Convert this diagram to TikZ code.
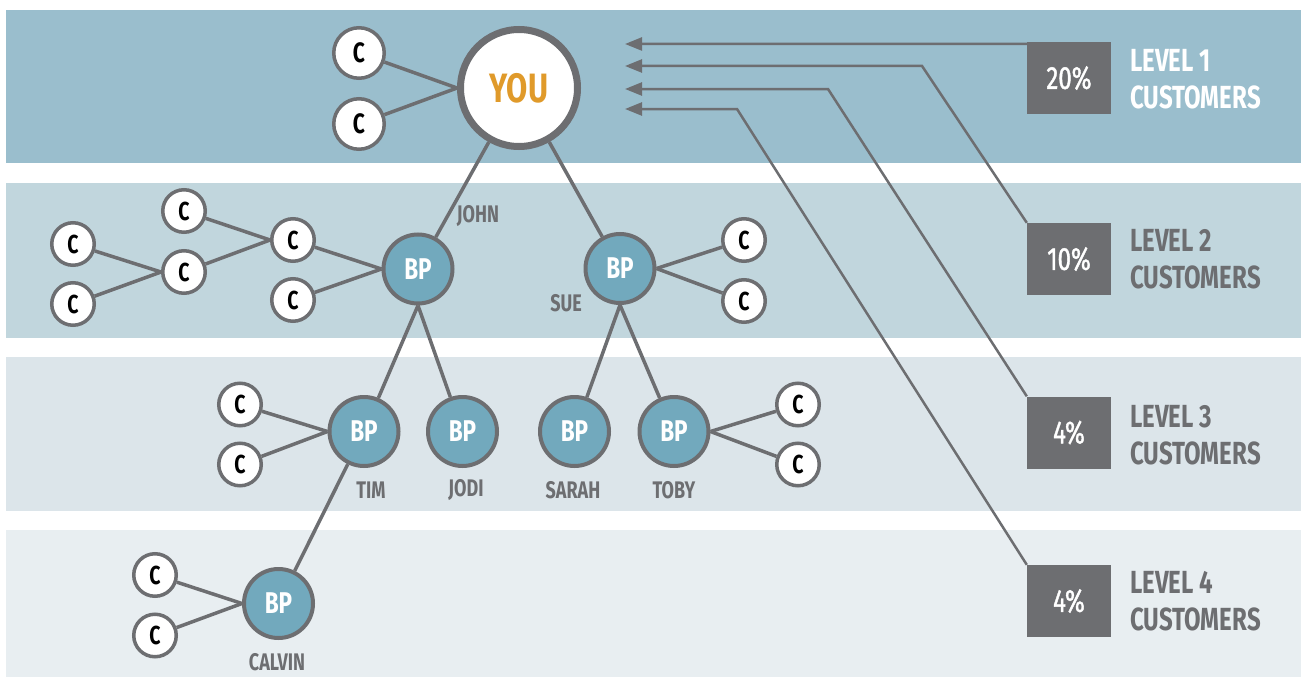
\documentclass[tikz,border=0pt]{standalone}
\usepackage{fontspec}
\setmainfont{Fira Sans}[FakeStretch=0.75]
\newfontfamily\pctfont{Fira Sans}[FakeStretch=0.75, FakeBold=1.2]
\usetikzlibrary{arrows.meta}
\definecolor{bandA}{HTML}{9ABECD}
\definecolor{bandB}{HTML}{C1D6DD}
\definecolor{bandC}{HTML}{DCE5EA}
\definecolor{bandD}{HTML}{E8EEF1}
\definecolor{slate}{HTML}{6D6E71}
\definecolor{bpblue}{HTML}{72A9BD}
\definecolor{youorange}{HTML}{E09A2A}
\tikzset{
  cnode/.style={circle, draw=slate, fill=white, line width=3.5pt, minimum size=42.5pt, inner sep=0pt, font=\fontsize{26}{26}\selectfont\bfseries},
  cbig/.style={cnode, minimum size=50.5pt, font=\fontsize{28}{28}\selectfont\bfseries},
  bpnode/.style={circle, draw=slate, fill=bpblue, line width=4pt, minimum size=69pt, inner sep=0pt, text=white, font=\fontsize{30}{30}\selectfont\bfseries},
  younode/.style={circle, draw=slate, fill=white, line width=7pt, minimum size=117pt, inner sep=0pt, text=youorange, font=\fontsize{41}{41}\selectfont\bfseries},
  who/.style={text=slate, font=\fontsize{24}{24}\selectfont\bfseries},
  pctbox/.style={fill=slate, minimum width=84pt, minimum height=72pt, inner sep=0pt, text=white, font=\fontsize{32}{32}\pctfont},
  lvl/.style={anchor=west, align=left, inner sep=0pt, font=\fontsize{32}{37}\selectfont\bfseries},
  conn/.style={draw=slate, line width=3.5pt},
  payline/.style={draw=slate, line width=2.5pt, -{Triangle[length=17pt,width=13pt]}}
}
\begin{document}
\begin{tikzpicture}[x=1pt, y=-1pt]
        \useasboundingbox (0,0) rectangle (1301,677);
        % level bands
        \fill[bandA] (6,10) rectangle (1301,163);
        \fill[bandB] (6,183) rectangle (1301,338);
        \fill[bandC] (6,357) rectangle (1301,511);
        \fill[bandD] (6,530) rectangle (1301,677);

        % level 1
        \node[younode] (you) at (519,88) {YOU};
        \node[cbig] (yc1) at (359,53) {C};
        \node[cbig] (yc2) at (359,124) {C};

        % level 2
        \node[bpnode] (john) at (418,269) {BP};
        \node[bpnode] (sue) at (620,268.5) {BP};
        \node[cnode] (jc1) at (293,240) {C};
        \node[cnode] (jc2) at (293,300) {C};
        \node[cnode] (mc1) at (184,211) {C};
        \node[cnode] (mc2) at (184,272) {C};
        \node[cnode] (lc1) at (73,244) {C};
        \node[cnode] (lc2) at (73,304) {C};
        \node[cnode] (sc1) at (744,240) {C};
        \node[cnode] (sc2) at (744,301) {C};
        \node[who] (johnname) at (478,216) {JOHN};
        \node[who] (suename) at (566,303) {SUE};

        % level 3
        \node[bpnode] (tim) at (364,431.5) {BP};
        \node[bpnode] (jodi) at (462.5,431.5) {BP};
        \node[bpnode] (sarah) at (574.5,431.5) {BP};
        \node[bpnode] (toby) at (674,431.5) {BP};
        \node[cnode] (tc1) at (240,404.5) {C};
        \node[cnode] (tc2) at (240,464.5) {C};
        \node[cnode] (oc1) at (798,404.5) {C};
        \node[cnode] (oc2) at (798,464.5) {C};
        \node[who] (timname) at (371,490) {TIM};
        \node[who] (jodiname) at (466,490) {JODI};
        \node[who] (sarahname) at (573,490) {SARAH};
        \node[who] (tobyname) at (674,490) {TOBY};

        % level 4
        \node[bpnode] (calvin) at (278.5,603.5) {BP};
        \node[cnode] (cc1) at (155,575) {C};
        \node[cnode] (cc2) at (155,635.5) {C};
        \node[who] (calvinname) at (277,662) {CALVIN};

        % connectors
        \foreach \c/\t in {yc1/you.west, yc2/you.west, lc1/mc2.west, lc2/mc2.west,
                           mc1/jc1.west, mc2/jc1.west, jc1/john.west, jc2/john.west,
                           sc1/sue.east, sc2/sue.east, tc1/tim.west, tc2/tim.west,
                           oc1/toby.east, oc2/toby.east, cc1/calvin.west, cc2/calvin.west}
        \draw[conn] (\c) -- (\t);
        \draw[conn] (you) -- (john);
        \draw[conn] (you) -- (sue);
        \draw[conn] (john.south) -- (tim);
        \draw[conn] (john.south) -- (jodi);
        \draw[conn] (sue.south) -- (sarah);
        \draw[conn] (sue.south) -- (toby);
        \draw[conn] (tim) -- (calvin);

        % payout boxes
        \node[pctbox] (p1) at (1069,78) {20\%};
        \node[pctbox] (p2) at (1069,259) {10\%};
        \node[pctbox] (p3) at (1069,432.5) {4\%};
        \node[pctbox] (p4) at (1069,601) {4\%};
        \node[lvl, text=white] (l1) at (1130,79) {LEVEL 1\\CUSTOMERS};
        \node[lvl, text=slate] (l2) at (1130,259) {LEVEL 2\\CUSTOMERS};
        \node[lvl, text=slate] (l3) at (1130,435) {LEVEL 3\\CUSTOMERS};
        \node[lvl, text=slate] (l4) at (1130,601) {LEVEL 4\\CUSTOMERS};

        % arrows back to YOU
        \coordinate (t1) at (625,44);
        \coordinate (t2) at (625,66);
        \coordinate (t3) at (625,89);
        \coordinate (t4) at (625,109);
        \coordinate (k2) at (922,66);
        \coordinate (k3) at (828,89);
        \coordinate (k4) at (737,109);
        \draw[payline] ([yshift=-2pt]p1.north west) -- (t1);
        \draw[payline] (p2.north west) -- (k2) -- (t2);
        \draw[payline] (p3.north west) -- (k3) -- (t3);
        \draw[payline] (p4.north west) -- (k4) -- (t4);
\end{tikzpicture}
\end{document}
